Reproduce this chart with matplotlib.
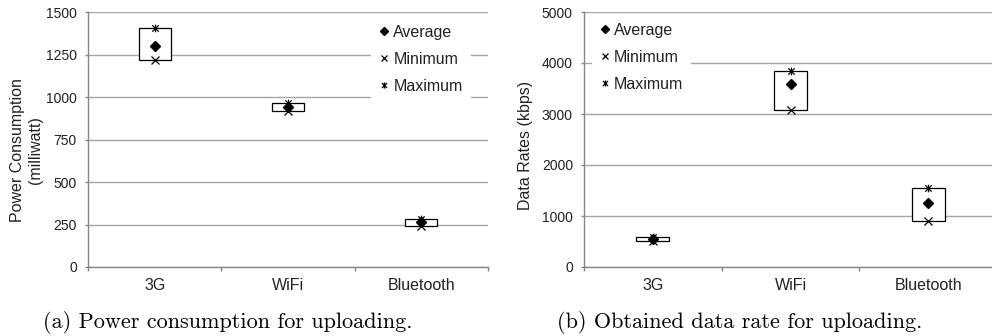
import numpy as np
import matplotlib
matplotlib.use('Agg')
import matplotlib.pyplot as plt
from matplotlib.path import Path

plt.rcParams['font.family'] = ['Liberation Sans', 'DejaVu Sans']

# Upload measurements per interface
categories = ['3G', 'WiFi', 'Bluetooth']
power_avg = [1300, 940, 265]
power_min = [1220, 915, 242]
power_max = [1405, 962, 285]
rate_avg = [545, 3580, 1250]
rate_min = [505, 3075, 910]
rate_max = [585, 3840, 1545]

GRID = '#a6a6a6'
AXIS = '#868686'
TEXT = '#222222'

# Excel-style star marker: an x with a vertical stroke through it
STAR = Path([(-1, -1), (1, 1), (-1, 1), (1, -1), (0, -1.2), (0, 1.2)],
            [Path.MOVETO, Path.LINETO, Path.MOVETO, Path.LINETO, Path.MOVETO, Path.LINETO])


def draw_panel(ax, avg, lo, hi, ymax, step, ylabel, label_xy, legend_anchor):
    x = np.arange(1, len(categories) + 1)
    lo = np.array(lo)
    hi = np.array(hi)
    ax.bar(x, hi - lo, bottom=lo, width=0.24, facecolor='white',
           edgecolor='black', linewidth=0.9, zorder=2)
    ax.plot(x, avg, ls='none', marker='D', ms=5, color='black',
            label='Average', zorder=3)
    ax.plot(x, lo, ls='none', marker='x', ms=5.5, mew=0.9, color='black',
            label='Minimum', zorder=3)
    ax.plot(x, hi, ls='none', marker=STAR, ms=5.5, mew=0.9, mfc='none',
            color='black', label='Maximum', zorder=3)

    ax.set_xlim(0.5, len(categories) + 0.5)
    ax.set_ylim(0, ymax)
    ax.set_yticks(np.arange(0, ymax + 1, step))
    ax.set_xticks(x)
    ax.set_xticklabels(categories)
    ax.set_xticks(np.arange(0.5, len(categories) + 1, 1.0), minor=True)

    ax.set_axisbelow(True)
    ax.yaxis.grid(True, color=GRID, lw=1.0)
    for side in ('top', 'right'):
        ax.spines[side].set_visible(False)
    for side in ('left', 'bottom'):
        ax.spines[side].set_color(AXIS)
        ax.spines[side].set_linewidth(1.0)

    ax.tick_params(axis='y', length=2.5, width=1.0, color=AXIS,
                   labelsize=10, labelcolor=TEXT, pad=5.5)
    ax.tick_params(axis='x', which='major', length=0, labelsize=11.5,
                   labelcolor=TEXT, pad=8)
    ax.tick_params(axis='x', which='minor', length=3, width=1.0, color=AXIS)

    ax.set_ylabel(ylabel, fontsize=11.5, color=TEXT, linespacing=1.25)
    ax.yaxis.set_label_coords(*label_xy)

    leg = ax.legend(loc='upper left', bbox_to_anchor=legend_anchor,
                    frameon=True, fancybox=False, facecolor='white',
                    edgecolor='none', framealpha=1, fontsize=11.5,
                    handlelength=0.6, handletextpad=0.3, labelspacing=0.75,
                    borderpad=0.5, borderaxespad=0, markerscale=0.8)
    for t in leg.get_texts():
        t.set_color(TEXT)


fig = plt.figure(figsize=(9.92, 3.36), dpi=100)
ax1 = fig.add_axes([88 / 992, 69 / 336, 400 / 992, 255 / 336])
ax2 = fig.add_axes([584 / 992, 69 / 336, 413 / 992, 255 / 336])

draw_panel(ax1, power_avg, power_min, power_max, 1500, 250,
           'Power Consumption\n(milliwatt)', (-0.112, 0.46), (0.7075, 0.98))
draw_panel(ax2, rate_avg, rate_min, rate_max, 5000, 1000,
           'Data Rates (kbps)', (-0.123, 0.476), (0.019, 0.988))

fig.text(43 / 992, 8 / 336, '(a) Power consumption for uploading.',
         family='cmr10', fontsize=16, ha='left', va='baseline')
fig.text(557 / 992, 8 / 336, '(b) Obtained data rate for uploading.',
         family='cmr10', fontsize=16, ha='left', va='baseline')

fig.savefig('out.png', dpi=100)
